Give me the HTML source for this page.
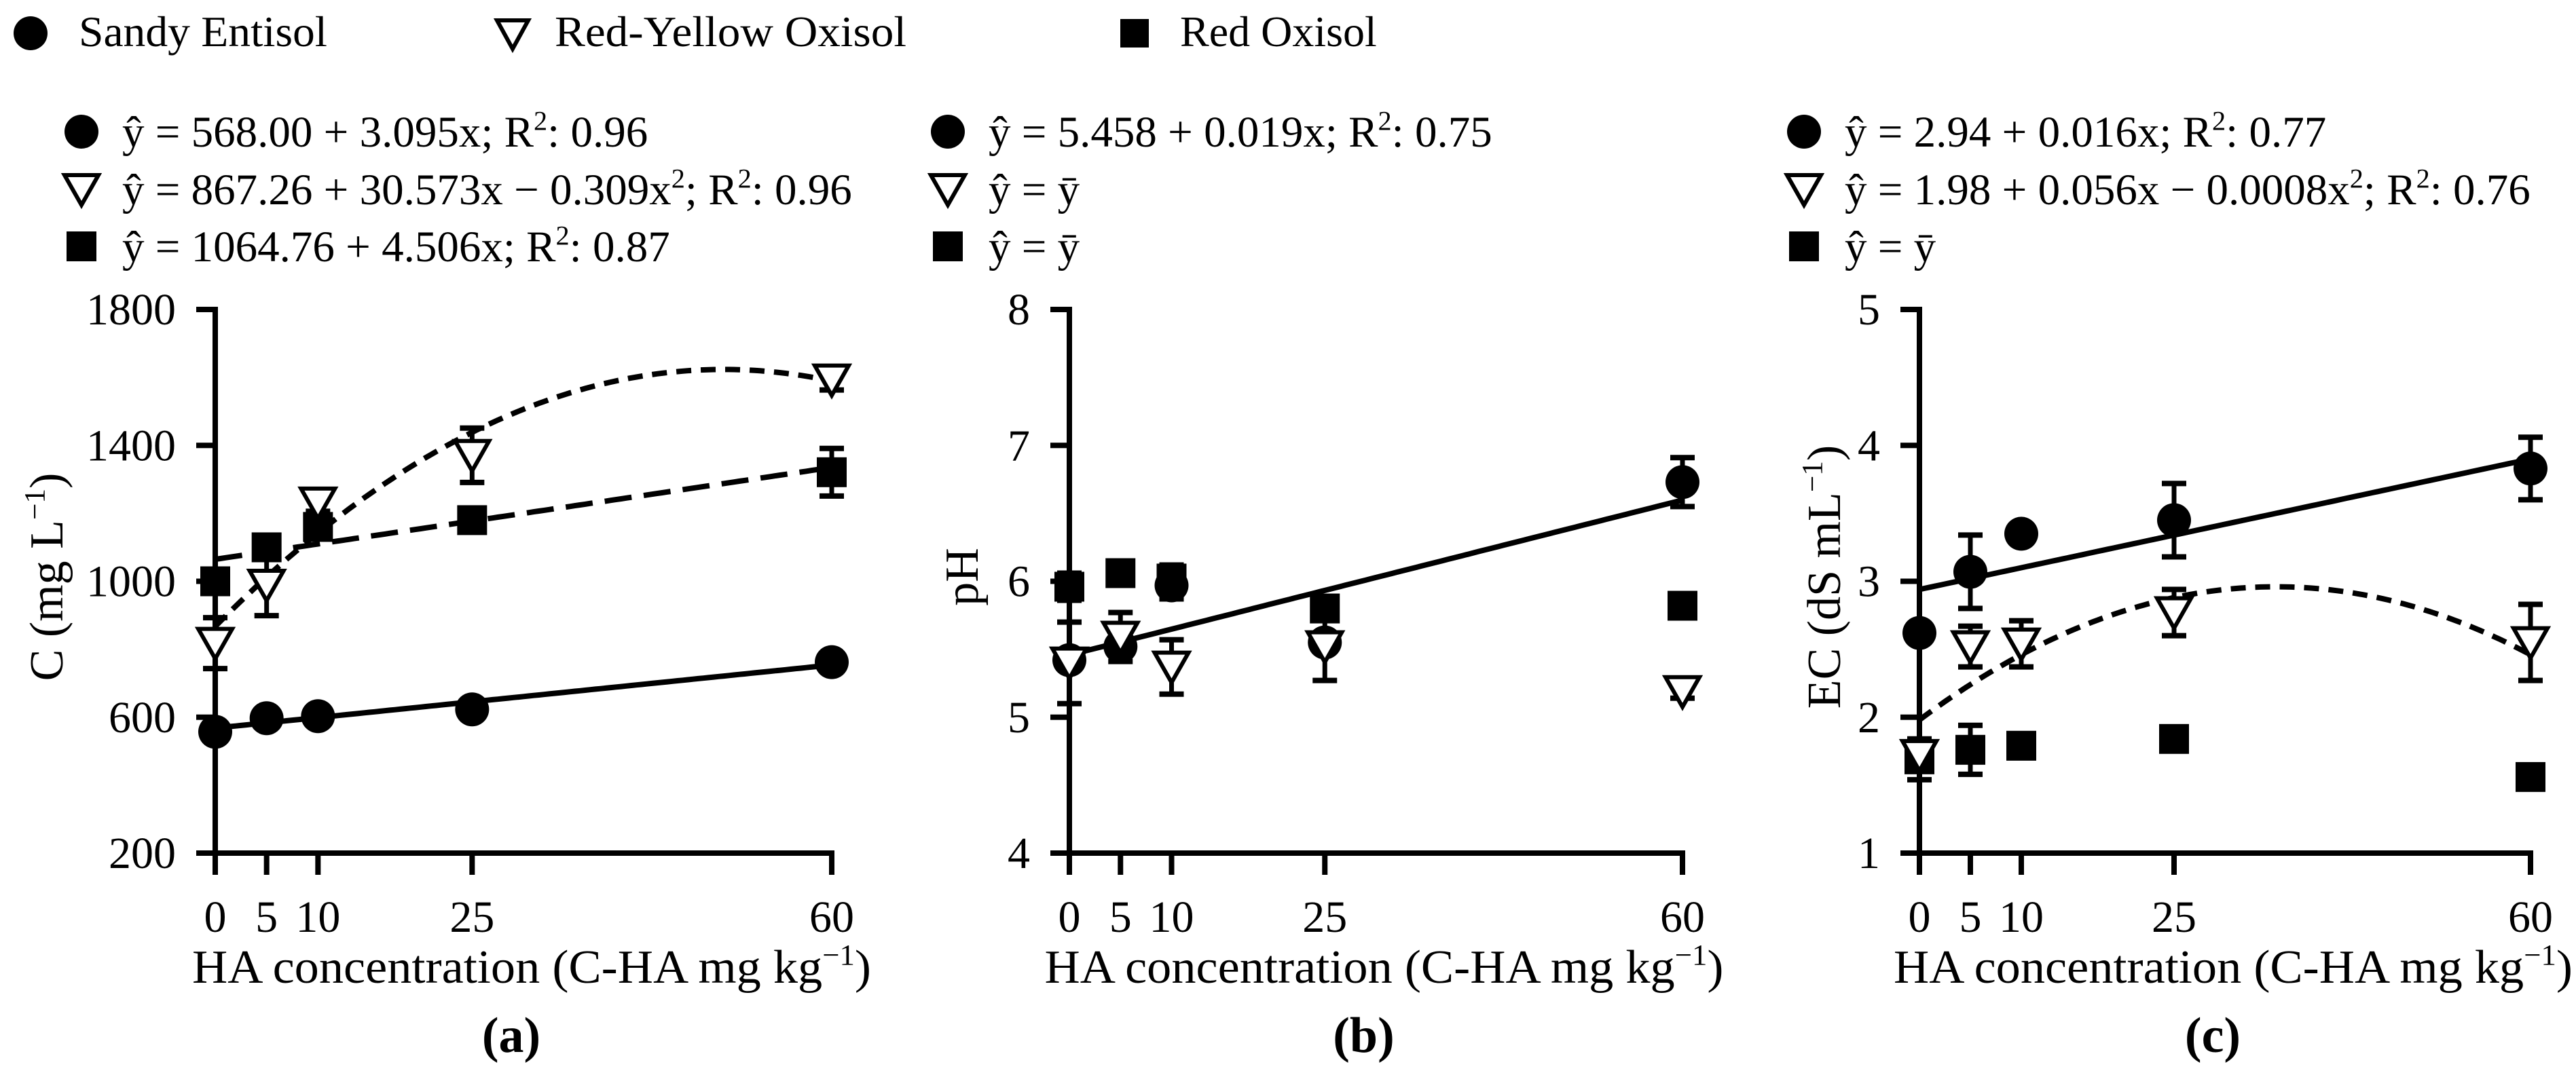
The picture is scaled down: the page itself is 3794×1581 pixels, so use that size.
<!DOCTYPE html>
<html><head><meta charset="utf-8"><style>
html,body{margin:0;padding:0;background:#fff;}
svg{display:block;}
text{font-family:"Liberation Serif","Times New Roman",serif;fill:#000;}
</style></head><body>
<svg id="chart" xmlns="http://www.w3.org/2000/svg" width="3794" height="1581" viewBox="0 0 3794 1581">
<g id="legend">
  <g>
    <circle cx="45" cy="49" r="25" fill="#000"/>
    <text x="116" y="68" font-family="Liberation Serif, serif" font-size="64" textLength="366" lengthAdjust="spacingAndGlyphs">Sandy Entisol</text>
  </g>
  <g>
    <path d="M732,30 L778,30 L755,72 Z" fill="#fff" stroke="#000" stroke-width="6"/>
    <text x="817" y="68" font-family="Liberation Serif, serif" font-size="64" textLength="518" lengthAdjust="spacingAndGlyphs">Red-Yellow Oxisol</text>
  </g>
  <g>
    <rect x="1650" y="28" width="42" height="42" fill="#000"/>
    <text x="1738" y="68" font-family="Liberation Serif, serif" font-size="64">Red Oxisol</text>
  </g>
</g>
<g id="plots"></g>
</svg>
<script>
const NS="http://www.w3.org/2000/svg";
const xCats=[0,5,10,25,60];
const xTickLabels=["0","5","10","25","60"];
// Panel a: C (mg L-1)
const aSandy=[557,597,603,623,762];
const aSandyErr=[0,15,15,15,0];
const aRYO=[818,989,1231,1371,1593];
const aRYOErr=[75,90,25,80,30];
const aRed=[1000,1100,1160,1180,1321];
const aRedErr=[15,35,30,25,70];
const aTicks=[200,600,1000,1400,1800];
// Panel b: pH
const bSandy=[5.42,5.52,5.97,5.55,6.73];
const bSandyErr=[0,0,0.1,0,0.18];
const bRYO=[5.40,5.59,5.37,5.52,5.19];
const bRYOErr=[0.3,0.18,0.2,0.25,0.05];
const bRed=[5.96,6.06,6.02,5.80,5.82];
const bRedErr=[0.1,0,0.1,0.08,0];
const bTicks=[4,5,6,7,8];
// Panel c: EC
const cSandy=[2.62,3.07,3.35,3.45,3.83];
const cSandyErr=[0,0.27,0,0.27,0.23];
const cRYO=[1.72,2.52,2.54,2.77,2.55];
const cRYOErr=[0,0.15,0.17,0.17,0.28];
const cRed=[1.69,1.76,1.79,1.84,1.56];
const cRedErr=[0.15,0.18,0,0,0];
const cTicks=[1,2,3,4,5];

const panels=[
 {id:"a",x0:317,x60:1225,tlx:68,yMin:200,yMax:1800,ticks:aTicks,ytitle:["C (mg L","−1",")"],
  sandy:aSandy,sandyE:aSandyErr,ryo:aRYO,ryoE:aRYOErr,red:aRed,redE:aRedErr,
  fits:[{f:x=>568+3.095*x,dash:"none",n:"sandy-fit"},{f:x=>867.26+30.573*x-0.309*x*x,dash:"22 14",n:"ryo-fit"},{f:x=>1064.76+4.506*x,dash:"40 18",n:"red-fit"}],
  eqx:120,eq:[["c","ŷ = 568.00 + 3.095x; R","2",": 0.96"],["t","ŷ = 867.26 + 30.573x − 0.309x","2","; R","2",": 0.96"],["s","ŷ = 1064.76 + 4.506x; R","2",": 0.87"]]},
 {id:"b",x0:1575,x60:2478,tlx:1416,yMin:4,yMax:8,ticks:bTicks,ytitle:["pH"],
  sandy:bSandy,sandyE:bSandyErr,ryo:bRYO,ryoE:bRYOErr,red:bRed,redE:bRedErr,
  fits:[{f:x=>5.458+0.019*x,dash:"none",n:"sandy-fit"}],
  eqx:1396,eq:[["c","ŷ = 5.458 + 0.019x; R","2",": 0.75"],["t","ŷ = ȳ"],["s","ŷ = ȳ"]]},
 {id:"c",x0:2827,x60:3727,tlx:2686,yMin:1,yMax:5,ticks:cTicks,ytitle:["EC (dS mL","−1",")"],
  sandy:cSandy,sandyE:cSandyErr,ryo:cRYO,ryoE:cRYOErr,red:cRed,redE:cRedErr,
  fits:[{f:x=>2.94+0.016*x,dash:"none",n:"sandy-fit"},{f:x=>1.98+0.056*x-0.0008*x*x,dash:"22 14",n:"ryo-fit"}],
  eqx:2657,eq:[["c","ŷ = 2.94 + 0.016x; R","2",": 0.77"],["t","ŷ = 1.98 + 0.056x − 0.0008x","2","; R","2",": 0.76"],["s","ŷ = ȳ"]]}
];
const yTop=456,yBot=1257;
const root=document.getElementById("plots");
function el(tag,attrs,parent){const e=document.createElementNS(NS,tag);for(const k in attrs)e.setAttribute(k,attrs[k]);(parent||root).appendChild(e);return e;}
function marker(type,cx,cy,g,size){
  size=size||1;
  if(type==="c") return el("circle",{cx:cx,cy:cy,r:25*size,fill:"#000"},g);
  if(type==="s") return el("rect",{x:cx-22*size,y:cy-22*size,width:44*size,height:44*size,fill:"#000"},g);
  return el("path",{d:`M${cx-25*size},${cy-21*size} L${cx+25*size},${cy-21*size} L${cx},${cy+23*size} Z`,fill:"#fff",stroke:"#000","stroke-width":6},g);
}
function richText(g,x,y,parts,fs){
  const t=el("text",{x:x,y:y,"font-size":fs},g);
  parts.forEach((p,i)=>{
    const isSup=(p==="2"||p==="−1");
    const ts=el("tspan",isSup?{"font-size":fs*0.62,dy:-fs*0.38}:(i>0&&(parts[i-1]==="2"||parts[i-1]==="−1")?{dy:fs*0.38}:{}),t);
    ts.textContent=p;
  });
  return t;
}
panels.forEach(p=>{
  const g=el("g",{});
  
  
  const sx=v=>p.x0+(v/60)*(p.x60-p.x0);
  const sy=v=>yBot-(v-p.yMin)/(p.yMax-p.yMin)*(yBot-yTop);
  const mid=(p.x0+p.x60)/2;
  p.eq.forEach((row,i)=>{
    const eg=el("g",{},g);
    
    
    const cy=[194,279,363][i];
    marker(row[0],p.eqx,cy,eg,1);
    richText(eg,p.eqx+60,cy+22,row.slice(1),65);
  });
  const ax=el("g",{},g);
  
  
  el("line",{x1:p.x0,y1:yTop-4,x2:p.x0,y2:yBot,stroke:"#000","stroke-width":8},ax);
  el("line",{x1:p.x0-4,y1:yBot,x2:p.x60+4,y2:yBot,stroke:"#000","stroke-width":8},ax);
  p.ticks.forEach(v=>{
    el("line",{x1:p.x0-28,y1:sy(v),x2:p.x0,y2:sy(v),stroke:"#000","stroke-width":8},ax);
    const t=el("text",{x:p.x0-58,y:sy(v)+22,"font-size":66,"text-anchor":"end"},ax);
    
    
    t.textContent=String(v);
  });
  xCats.forEach((v,i)=>{
    el("line",{x1:sx(v),y1:yBot,x2:sx(v),y2:yBot+32,stroke:"#000","stroke-width":8},ax);
    const t=el("text",{x:sx(v),y:1373,"font-size":66,"text-anchor":"middle"},ax);
    
    
    t.textContent=xTickLabels[i];
  });
  const xt=richText(ax,mid-500+12,1448,["HA concentration  (C-HA mg kg","−1",")"],70);
  xt.setAttribute("textLength","1000");
  xt.setAttribute("lengthAdjust","spacingAndGlyphs");
  
  
  const yt=richText(ax,0,0,p.ytitle,70);
  yt.setAttribute("text-anchor","middle");
  yt.setAttribute("transform",`translate(${p.tlx+24},850) rotate(-90)`);
  
  
  const lab=el("text",{x:mid-18,y:1550,"font-size":74,"font-weight":"bold","text-anchor":"middle"},ax);
  
  
  lab.textContent="("+p.id+")";
  p.fits.forEach(ft=>{
    let d="";
    for(let i=0;i<=120;i++){const x=i*0.5;d+=(i?"L":"M")+sx(x).toFixed(1)+","+sy(ft.f(x)).toFixed(1);}
    const path=el("path",{d:d,fill:"none",stroke:"#000","stroke-width":8,"stroke-dasharray":ft.dash},g);
    
    
  });
  [["s",p.red,p.redE,"red-oxisol"],["c",p.sandy,p.sandyE,"sandy-entisol"],["t",p.ryo,p.ryoE,"red-yellow-oxisol"]].forEach(sr=>{
    const sg=el("g",{},g);
    
    
    sr[1].forEach((v,i)=>{
      const cx=sx(xCats[i]),cy=sy(v),e=sr[2][i];
      if(e>0){
        const y1=sy(v+e),y2=sy(v-e);
        el("line",{x1:cx,y1:y1,x2:cx,y2:y2,stroke:"#000","stroke-width":7},sg);
        el("line",{x1:cx-18,y1:y1,x2:cx+18,y2:y1,stroke:"#000","stroke-width":8},sg);
        el("line",{x1:cx-18,y1:y2,x2:cx+18,y2:y2,stroke:"#000","stroke-width":8},sg);
      }
      const m=marker(sr[0],cx,cy,sg);
      
      
    });
  });
});
</script>
</body></html>
